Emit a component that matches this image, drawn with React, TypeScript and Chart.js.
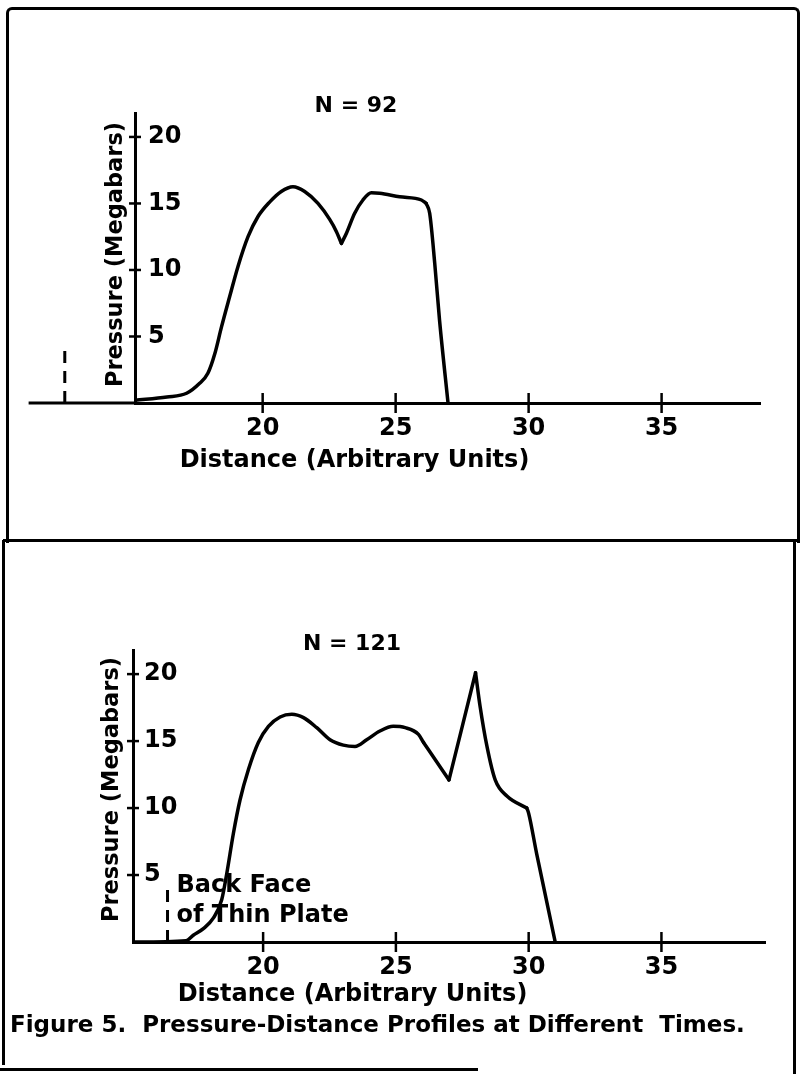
import React, { useEffect, useRef } from "react";
import { Chart, registerables } from "chart.js";

Chart.register(...registerables);

const FONT = "'DejaVu Sans', 'Liberation Sans', Arial, sans-serif";

// ---------- data ----------
const xTickValues = [20, 25, 30, 35];
const yTickValues = [5, 10, 15, 20];

// Panel 1: N = 92
const topDistance = [15.2, 16.4, 17.14, 17.63, 17.94, 18.2, 18.45, 18.76, 19.07, 19.45, 19.82, 20.26, 20.7, 21.14, 21.58, 22.08, 22.52, 22.77, 22.96, 23.15, 23.46, 23.77, 24.09, 24.4, 25.15, 25.97, 26.15, 26.28, 26.47, 26.65, 26.97];
const topPressure = [0.2, 0.45, 0.73, 1.48, 2.23, 3.7, 5.7, 8.0, 10.25, 12.5, 14.0, 15.1, 15.9, 16.26, 15.9, 15.0, 13.8, 12.9, 12.0, 12.76, 14.26, 15.26, 15.8, 15.77, 15.5, 15.26, 15.0, 14.26, 10.5, 6.24, 0];
// indices where the profile has a sharp corner (cusp)
const topCorners = [18, 26];

// Panel 2: N = 121
const bottomDistance = [15.1, 17.1, 17.37, 17.75, 18.13, 18.44, 18.63, 18.88, 19.13, 19.45, 19.82, 20.2, 20.64, 21.08, 21.52, 22.02, 22.52, 23.02, 23.46, 23.9, 24.4, 24.9, 25.35, 25.85, 26.04, 27.0, 28.0, 28.17, 28.43, 28.74, 29.18, 29.93, 30.0, 30.3, 31.0];
const bottomPressure = [0, 0.1, 0.5, 1.0, 1.8, 3.15, 5.1, 8.1, 10.6, 12.9, 14.9, 16.1, 16.8, 17.0, 16.75, 16.0, 15.1, 14.7, 14.6, 15.1, 15.75, 16.1, 16.0, 15.5, 14.9, 12.1, 20.1, 17.6, 14.6, 12.1, 10.9, 10.0, 9.6, 6.6, 0];
const bottomCorners = [24, 25, 26, 31];

// axis ranges
const topXRange = [15.2, 38.7];
const topAxisStart = 11.2; // x-axis line extends left of the pressure axis
const bottomXRange = [15.1, 38.9];
const yMax = 21.8;

// back-face markers (distance, height)
const topMarker = [12.56, 4.2];
const bottomMarker = [16.4, 4.3];

const titles = ["N = 92", "N = 121"];
const xTitle = "Distance (Arbitrary Units)";
const yTitle = "Pressure (Megabars)";
const markerLines = ["Back Face", "of Thin Plate"];
const caption = "Figure 5.  Pressure-Distance Profiles at Different  Times.";

type PanelCfg = {
  height: number;
  xs: number[];
  ys: number[];
  corners: number[];
  xRange: number[];
  axisStart: number | null;
  marker: number[];
  title: string;
  titleX: number;
  titleY: number;
  areaTop: number;
  areaBottom: number;
  areaLeft: number;
  areaRight: number;
  xTitleX: number;
  xTitleY: number;
  yTitleX: number;
  yTitleY: number;
  yTickPad: number;
  markerText: boolean;
  caption: boolean;
};

function segments(xs: number[], ys: number[], corners: number[]) {
  const cuts = [0, ...corners, xs.length - 1];
  const out: { x: number; y: number }[][] = [];
  for (let k = 0; k < cuts.length - 1; k++) {
    const seg: { x: number; y: number }[] = [];
    for (let i = cuts[k]; i <= cuts[k + 1]; i++) seg.push({ x: xs[i], y: ys[i] });
    out.push(seg);
  }
  return out;
}

function buildChart(canvas: HTMLCanvasElement, c: PanelCfg) {
  const decor = {
    id: "decor",
    afterDraw(chart: any) {
      const { ctx } = chart;
      const xs = chart.scales.x;
      const ys = chart.scales.y;
      const y0 = ys.getPixelForValue(0);
      ctx.save();
      ctx.strokeStyle = "#000";
      ctx.fillStyle = "#000";
      ctx.lineWidth = 3;
      ctx.lineCap = "butt";
      if (c.axisStart !== null) {
        ctx.beginPath();
        ctx.moveTo(xs.getPixelForValue(c.axisStart), y0);
        ctx.lineTo(xs.left, y0);
        ctx.stroke();
      }
      // crossing tick marks
      ctx.lineWidth = 2.5;
      for (const v of xTickValues) {
        const px = xs.getPixelForValue(v);
        ctx.beginPath();
        ctx.moveTo(px, y0 - 10);
        ctx.lineTo(px, y0 + 10);
        ctx.stroke();
      }
      const ax = xs.left;
      for (const v of yTickValues) {
        const py = ys.getPixelForValue(v);
        ctx.beginPath();
        ctx.moveTo(ax - 6, py);
        ctx.lineTo(ax + 6, py);
        ctx.stroke();
      }
      // dashed marker
      const mx = xs.getPixelForValue(c.marker[0]);
      ctx.lineWidth = 3;
      ctx.setLineDash([12, 8]);
      ctx.beginPath();
      ctx.moveTo(mx, y0);
      ctx.lineTo(mx, ys.getPixelForValue(c.marker[1]));
      ctx.stroke();
      ctx.setLineDash([]);
      // panel title
      ctx.font = `bold 22px ${FONT}`;
      ctx.textAlign = "center";
      ctx.textBaseline = "alphabetic";
      ctx.fillText(c.title, c.titleX, c.titleY);
      // axis titles
      ctx.font = `bold 24px ${FONT}`;
      ctx.textAlign = "center";
      ctx.textBaseline = "middle";
      ctx.fillText(xTitle, c.xTitleX, c.xTitleY);
      ctx.save();
      ctx.translate(c.yTitleX, c.yTitleY);
      ctx.rotate(-Math.PI / 2);
      ctx.font = `bold 22.5px ${FONT}`;
      ctx.fillText(yTitle, 0, 0);
      ctx.restore();
      ctx.textBaseline = "alphabetic";
      if (c.markerText) {
        ctx.font = `bold 24px ${FONT}`;
        ctx.textAlign = "left";
        ctx.fillText(markerLines[0], mx + 9, 352);
        ctx.fillText(markerLines[1], mx + 9, 382);
      }
      if (c.caption) {
        ctx.font = `bold 23px ${FONT}`;
        ctx.textAlign = "left";
        ctx.fillText(caption, 10, 492);
      }
      ctx.restore();
    },
  };

  const fontTick = { family: FONT, size: 24, weight: "bold" as const, lineHeight: 1 };

  const datasets = segments(c.xs, c.ys, c.corners).map((seg) => ({
    data: seg,
    borderColor: "#000",
    borderWidth: 3.5,
    borderCapStyle: "round" as const,
    borderJoinStyle: "round" as const,
    pointRadius: 0,
    cubicInterpolationMode: "monotone" as const,
    tension: 0.4,
    fill: false,
  }));

  return new Chart(canvas, {
    type: "line",
    data: { datasets },
    options: {
      animation: false,
      responsive: false,
      devicePixelRatio: 1,
      events: [],
      layout: {
        padding: { left: 0, top: c.areaTop, right: 804 - c.areaRight, bottom: 0 },
      },
      plugins: { legend: { display: false }, tooltip: { enabled: false }, title: { display: false } },
      scales: {
        x: {
          type: "linear",
          min: c.xRange[0],
          max: c.xRange[1],
          afterBuildTicks: (s: any) => {
            s.ticks = xTickValues.map((v) => ({ value: v }));
          },
          afterFit: (s: any) => {
            s.height = c.height - c.areaBottom;
          },
          grid: { display: false, drawTicks: false },
          border: { display: true, color: "#000", width: 3 },
          ticks: { color: "#000", padding: 14, maxRotation: 0, autoSkip: false, font: fontTick },
          title: { display: false },
        },
        y: {
          type: "linear",
          min: 0,
          max: yMax,
          position: "left",
          afterBuildTicks: (s: any) => {
            s.ticks = yTickValues.map((v) => ({ value: v }));
          },
          afterFit: (s: any) => {
            s.width = c.areaLeft;
          },
          grid: { display: false, drawTicks: false },
          border: { display: true, color: "#000", width: 3 },
          ticks: { color: "#000", mirror: true, padding: c.yTickPad, font: fontTick },
          title: { display: false },
        },
      },
    },
    plugins: [decor],
  } as any);
}

const topCfg: PanelCfg = {
  height: 540,
  xs: topDistance,
  ys: topPressure,
  corners: topCorners,
  xRange: topXRange,
  axisStart: topAxisStart,
  marker: topMarker,
  title: titles[0],
  titleX: 356,
  titleY: 112,
  areaTop: 113,
  areaBottom: 403,
  areaLeft: 135,
  areaRight: 760,
  xTitleX: 354.5,
  xTitleY: 461,
  yTitleX: 116,
  yTitleY: 254.5,
  yTickPad: 13,
  markerText: false,
  caption: false,
};

const bottomCfg: PanelCfg = {
  height: 534,
  xs: bottomDistance,
  ys: bottomPressure,
  corners: bottomCorners,
  xRange: bottomXRange,
  axisStart: null,
  marker: bottomMarker,
  title: titles[1],
  titleX: 352,
  titleY: 110,
  areaTop: 110,
  areaBottom: 402,
  areaLeft: 133,
  areaRight: 765,
  xTitleX: 352.5,
  xTitleY: 454.5,
  yTitleX: 112,
  yTitleY: 249.5,
  yTickPad: 11,
  markerText: true,
  caption: true,
};

function Panel({ cfg, top }: { cfg: PanelCfg; top: number }) {
  const ref = useRef<HTMLCanvasElement | null>(null);
  useEffect(() => {
    if (!ref.current) return;
    const chart = buildChart(ref.current, cfg);
    return () => chart.destroy();
  }, [cfg]);
  return (
    <canvas
      ref={ref}
      width={804}
      height={cfg.height}
      style={{ position: "absolute", left: 0, top, width: 804, height: cfg.height }}
    />
  );
}

const line = (left: number, top: number, width: number, height: number) => (
  <div style={{ position: "absolute", left, top, width, height, background: "#000" }} />
);

export default function App() {
  return (
    <div style={{ position: "absolute", left: 0, top: 0, width: 804, height: 1074, background: "#fff", overflow: "hidden" }}>
      <Panel cfg={topCfg} top={0} />
      <Panel cfg={bottomCfg} top={540} />
      <div
        style={{
          position: "absolute",
          left: 6,
          top: 7,
          width: 788,
          height: 533,
          borderTop: "3px solid #000",
          borderLeft: "3px solid #000",
          borderRight: "3px solid #000",
          borderTopLeftRadius: 6,
          borderTopRightRadius: 6,
          pointerEvents: "none",
        }}
      />
      {line(3, 539, 797, 3)}
      {line(2, 540, 3, 525)}
      {line(793, 540, 3, 534)}
      {line(0, 1068, 478, 3)}
    </div>
  );
}
